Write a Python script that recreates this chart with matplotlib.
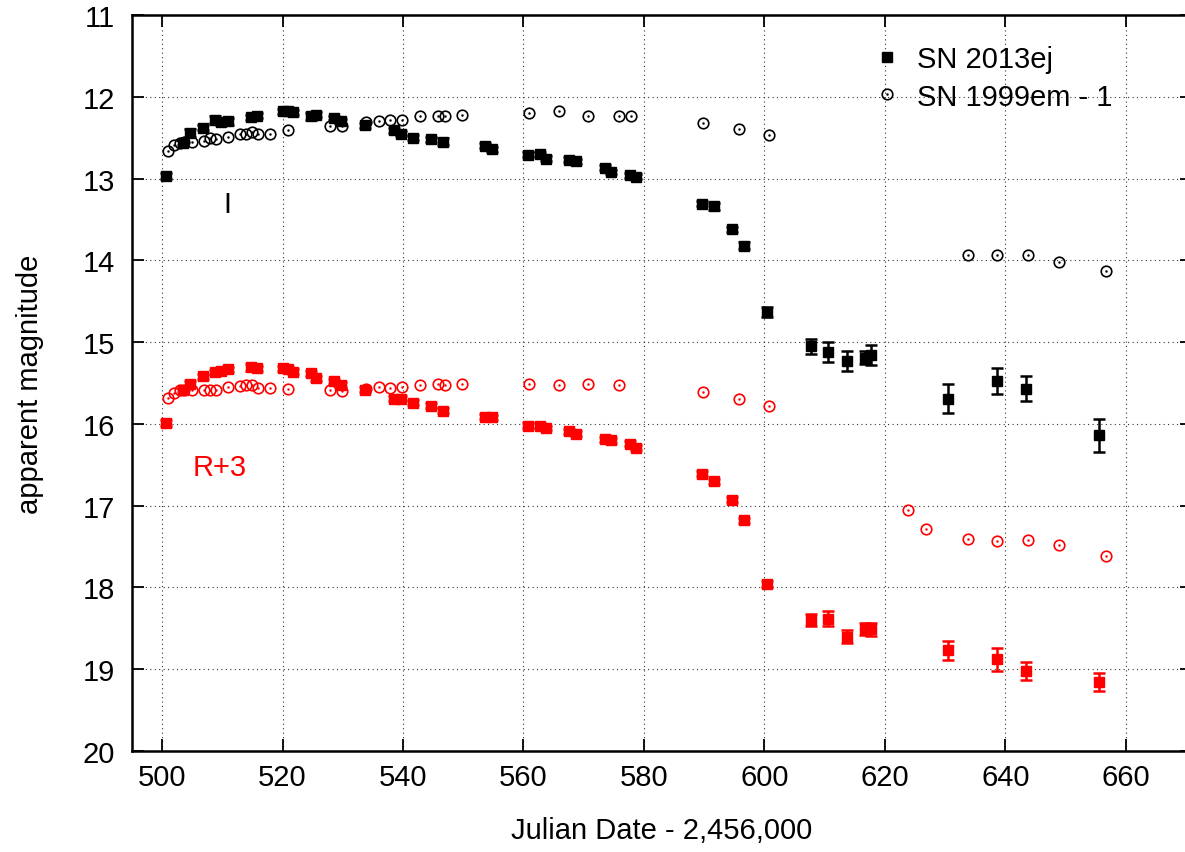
import matplotlib
matplotlib.use("Agg")
import matplotlib.pyplot as plt
import numpy as np

plt.rcParams['font.family'] = ['Liberation Sans', 'DejaVu Sans']

# SN 2013ej epochs (JD - 2,456,000)
jd_13ej = [500.7, 503.4, 504.7, 506.8, 508.7, 509.8, 510.9, 514.8, 515.7, 520.0,
           520.9, 521.7, 524.7, 525.6, 528.6, 529.7, 533.7, 538.5, 539.6, 541.7,
           544.6, 546.7, 553.6, 554.7, 560.7, 562.7, 563.8, 567.6, 568.7, 573.6,
           574.6, 577.7, 578.6, 589.7, 591.6, 594.6, 596.6, 600.4, 607.8, 610.6,
           613.7, 616.7, 617.7, 630.5, 638.6, 643.5, 655.5]
I_13ej = [12.97, 12.56, 12.44, 12.38, 12.28, 12.31, 12.30, 12.25, 12.23, 12.18,
          12.17, 12.19, 12.24, 12.22, 12.26, 12.30, 12.35, 12.41, 12.45, 12.50,
          12.52, 12.55, 12.60, 12.64, 12.71, 12.70, 12.76, 12.77, 12.79, 12.87,
          12.92, 12.96, 12.98, 13.31, 13.34, 13.62, 13.82, 14.63, 15.05, 15.12,
          15.23, 15.19, 15.16, 15.69, 15.48, 15.57, 16.14]
I_13ej_err = [0.04, 0.03, 0.05, 0.03, 0.04, 0.04, 0.04, 0.03, 0.03, 0.03,
              0.03, 0.03, 0.04, 0.03, 0.03, 0.03, 0.03, 0.03, 0.03, 0.03,
              0.03, 0.04, 0.03, 0.03, 0.03, 0.03, 0.03, 0.03, 0.03, 0.03,
              0.03, 0.03, 0.03, 0.03, 0.04, 0.03, 0.04, 0.06, 0.09, 0.12,
              0.12, 0.08, 0.12, 0.18, 0.16, 0.15, 0.20]
R_13ej = [15.99, 15.58, 15.51, 15.42, 15.37, 15.35, 15.33, 15.31, 15.32, 15.32,
          15.33, 15.36, 15.38, 15.44, 15.48, 15.52, 15.58, 15.69, 15.69, 15.74,
          15.78, 15.84, 15.91, 15.92, 16.02, 16.02, 16.05, 16.09, 16.12, 16.19,
          16.20, 16.24, 16.29, 16.61, 16.70, 16.93, 17.18, 17.96, 18.40, 18.38,
          18.60, 18.51, 18.51, 18.77, 18.88, 19.02, 19.16]
R_13ej_err = [0.04, 0.03, 0.04, 0.03, 0.03, 0.03, 0.03, 0.04, 0.03, 0.03,
              0.03, 0.03, 0.03, 0.03, 0.03, 0.03, 0.03, 0.03, 0.03, 0.03,
              0.03, 0.03, 0.03, 0.03, 0.03, 0.03, 0.03, 0.03, 0.03, 0.03,
              0.03, 0.03, 0.03, 0.03, 0.03, 0.03, 0.03, 0.04, 0.07, 0.09,
              0.08, 0.07, 0.08, 0.12, 0.14, 0.11, 0.11]

# SN 1999em (shifted)
jd_99em_I = [501.0, 502.0, 502.9, 503.7, 505.0, 506.9, 507.9, 509.0, 511.0, 513.0,
             513.9, 514.9, 516.0, 517.9, 520.9, 527.8, 529.9, 533.9, 536.0, 537.9,
             539.9, 542.9, 545.8, 546.9, 549.8, 560.9, 565.9, 570.7, 575.8, 577.8,
             589.8, 595.8, 600.7, 633.8, 638.7, 643.8, 648.9, 656.8]
I_99em = [12.66, 12.59, 12.56, 12.55, 12.55, 12.54, 12.51, 12.52, 12.49, 12.45,
          12.45, 12.43, 12.45, 12.45, 12.41, 12.36, 12.36, 12.31, 12.30, 12.29,
          12.29, 12.23, 12.24, 12.23, 12.22, 12.20, 12.18, 12.23, 12.23, 12.24,
          12.32, 12.39, 12.47, 13.94, 13.94, 13.94, 14.02, 14.13]
jd_99em_R = [501.0, 502.0, 502.9, 503.7, 505.0, 506.9, 507.9, 509.0, 511.0, 513.0,
             513.9, 514.9, 516.0, 517.9, 520.9, 527.8, 529.9, 533.9, 536.0, 537.9,
             539.9, 542.9, 545.8, 546.9, 549.8, 560.9, 565.9, 570.7, 575.8,
             589.8, 595.8, 600.7, 623.8, 626.8, 633.8, 638.7, 643.8, 648.9, 656.8]
R_99em = [15.68, 15.62, 15.59, 15.59, 15.58, 15.59, 15.58, 15.58, 15.55, 15.54,
          15.52, 15.53, 15.56, 15.56, 15.57, 15.58, 15.60, 15.57, 15.55, 15.56,
          15.55, 15.52, 15.51, 15.53, 15.51, 15.51, 15.52, 15.51, 15.52,
          15.61, 15.70, 15.78, 17.05, 17.28, 17.41, 17.43, 17.42, 17.48, 17.62]

x_ticks = [500, 520, 540, 560, 580, 600, 620, 640, 660]
y_ticks = [11, 12, 13, 14, 15, 16, 17, 18, 19, 20]

FS = 21
W, H = 1185, 853
fig = plt.figure(figsize=(W / 100, H / 100), dpi=100)
ax = fig.add_axes([132 / W, 1 - 752 / H, 1060 / W, (752 - 16) / H])

ax.set_xlim(495, 671)
ax.set_ylim(20, 11)

ax.grid(True, color='#333333', linestyle=(0, (1, 3)), linewidth=0.8)
ax.set_axisbelow(True)

def filled(x, y, e, c, label=None):
    ax.errorbar(x, y, yerr=e, fmt='none', ecolor=c, elinewidth=1.8,
                capsize=4.0, capthick=1.8, zorder=3)
    h, = ax.plot(x, y, ls='none', marker='s', ms=6.8, mfc=c, mec=c,
                 label=label, zorder=4)
    return h

def circles(x, y, c):
    h1, = ax.plot(x, y, ls='none', marker='o', ms=7.6, mfc='none', mec=c,
                  mew=1.2, zorder=4)
    h2, = ax.plot(x, y, ls='none', marker='o', ms=1.4, mfc=c, mec=c,
                  mew=0.3, zorder=4)
    return (h1, h2)

hb = filled(jd_13ej, I_13ej, I_13ej_err, 'black')
filled(jd_13ej, R_13ej, R_13ej_err, 'red')
hc = circles(jd_99em_I, I_99em, 'black')
circles(jd_99em_R, R_99em, 'red')

ax.text(510.8, 13.31, 'I', fontsize=FS, color='black', ha='center', va='center')
ax.text(509.5, 16.53, 'R+3', fontsize=FS, color='red', ha='center', va='center')

ax.set_xticks(x_ticks)
ax.set_yticks(y_ticks)
ax.tick_params(direction='in', length=8.5, width=1.3, labelsize=FS,
               top=True, right=True, pad=9)
ax.tick_params(axis='y', pad=12)
for s in ax.spines.values():
    s.set_linewidth(1.8)

ax.set_xlabel('Julian Date - 2,456,000', fontsize=FS, labelpad=18)
ax.set_ylabel('apparent magnitude', fontsize=FS, labelpad=28)

leg = ax.legend([hb, hc], ['SN 2013ej', 'SN 1999em - 1'], loc='upper left',
                bbox_to_anchor=(872 / W, 1 - 46 / H), bbox_transform=fig.transFigure,
                frameon=False, fontsize=FS, handlelength=1.0, handletextpad=0.55,
                labelspacing=0.33, borderpad=0, borderaxespad=0)

fig.savefig('out.png', dpi=100)
